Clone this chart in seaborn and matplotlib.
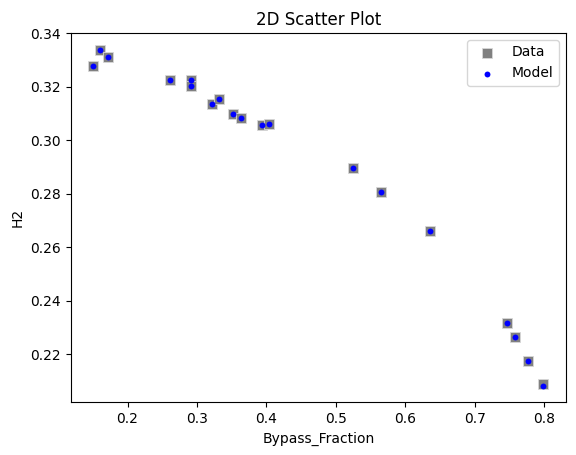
import matplotlib
matplotlib.use("Agg")
import matplotlib.pyplot as plt
import seaborn as sns
import pandas as pd

# values
bypass_fraction = [0.1505, 0.1602, 0.1712, 0.2613, 0.2914, 0.2914, 0.3216, 0.3323,
                   0.3518, 0.3629, 0.3935, 0.4036, 0.5244, 0.5646, 0.6361,
                   0.7472, 0.7579, 0.7774, 0.7990]
h2_data = [0.3279, 0.3339, 0.3313, 0.3225, 0.3226, 0.3203, 0.3136, 0.3154,
           0.3099, 0.3083, 0.3057, 0.3061, 0.2897, 0.2806, 0.2661,
           0.2315, 0.2265, 0.2174, 0.2087]
h2_model = [0.3279, 0.3339, 0.3312, 0.3225, 0.3224, 0.3204, 0.3135, 0.3154,
            0.3099, 0.3083, 0.3056, 0.3061, 0.2897, 0.2806, 0.2660,
            0.2315, 0.2265, 0.2174, 0.2082]

df = pd.DataFrame({"Bypass_Fraction": bypass_fraction, "Data": h2_data, "Model": h2_model})

fig, ax = plt.subplots(figsize=(5.76, 4.55), dpi=100)
sns.scatterplot(data=df, x="Bypass_Fraction", y="Data", marker="s", color="gray",
                s=46, edgecolor="#d8d8d8", linewidth=0.6, label="Data", ax=ax)
sns.scatterplot(data=df, x="Bypass_Fraction", y="Model", marker="o", color="blue",
                s=18, linewidth=0, label="Model", ax=ax)
ax.set_xlabel("Bypass_Fraction")
ax.set_ylabel("H2")
ax.set_title("2D Scatter Plot")
ax.legend(loc="upper right")
fig.subplots_adjust(left=0.1227, right=0.9826, top=0.9275, bottom=0.1158)
fig.savefig("out.png", dpi=100)
